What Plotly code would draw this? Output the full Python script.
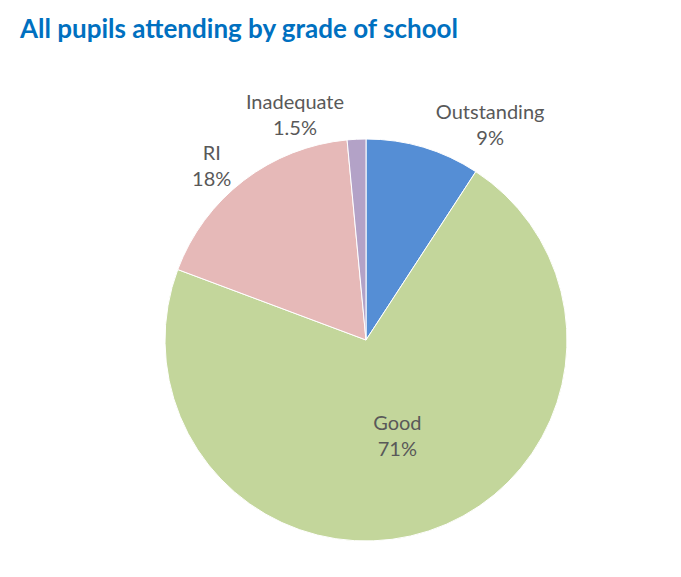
import plotly.graph_objects as go

grades = ['Outstanding', 'Good', 'RI', 'Inadequate']
share = [9.2, 71.5, 17.8, 1.5]
share_labels = ['9%', '71%', '18%', '1.5%']
colours = ['#558ED5', '#C3D69B', '#E6B9B8', '#B3A2C7']

W, H = 681, 577
# page draws 8px in from the window edge, so aim 8px up-left
cx, cy, r = 358, 332, 201

fig = go.Figure(go.Pie(
    labels=grades,
    values=share,
    text=share_labels,
    texttemplate='%{label}<br>%{text}',
    textposition=['outside', 'inside', 'outside', 'outside'],
    insidetextorientation='horizontal',
    textfont=dict(family='Lato', size=20, color='#595959'),
    marker=dict(colors=colours, line=dict(color='white', width=1)),
    sort=False,
    direction='clockwise',
    rotation=0,
    showlegend=False,
    domain=dict(x=[(cx - r) / W, (cx + r) / W], y=[(H - cy - r) / H, (H - cy + r) / H]),
))

fig.update_layout(
    width=W, height=H,
    margin=dict(l=0, r=0, t=0, b=0),
    paper_bgcolor='white',
    title=dict(text='<b>All pupils attending by grade of school</b>',
               font=dict(family='Lato', size=26, color='#0070C0'),
               x=12 / W, xanchor='left', xref='paper',
               y=1 - 21 / H, yanchor='middle', yref='container'),
)

fig.write_html('out.html')
